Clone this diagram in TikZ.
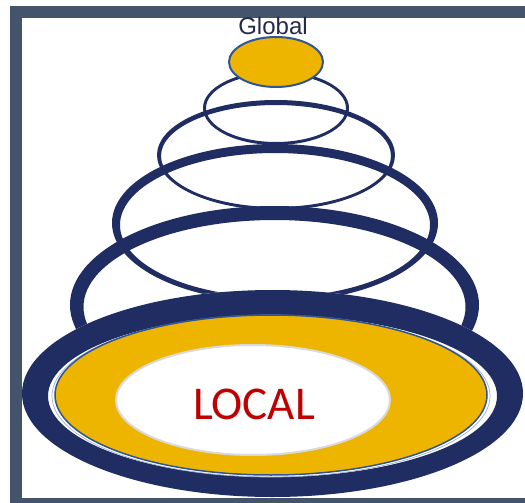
\documentclass[tikz,border=0pt]{standalone}
\usepackage{fontspec}
\newfontfamily\carlito{Carlito}
\newfontfamily\arialish{Liberation Sans}
\definecolor{framec}{HTML}{44546A}
\definecolor{navy}{HTML}{1F2D62}
\definecolor{gold}{HTML}{EEB500}
\definecolor{outblue}{HTML}{2F5597}
\definecolor{localred}{HTML}{C00000}
\definecolor{globtxt}{HTML}{262A4A}
\definecolor{lgray}{HTML}{D9D9D9}
\begin{document}
\begin{tikzpicture}[x=1pt,y=-1pt,
  ring/.style={fill=navy, even odd rule},
  goldfill/.style={fill=gold, draw=outblue, line width=2pt}]
\useasboundingbox (0,0) rectangle (525,503);
\fill[white] (0,0) rectangle (525,503);
\begin{scope}
\clip (0,0) rectangle (525,503);
\draw[framec, line width=12pt, fill=white] (16,12) rectangle (540,504);
% stacked rings (thicker at the top)
\fill[ring] (276,108) ellipse [x radius=73pt, y radius=37pt]
            (276,108) ellipse [x radius=70pt, y radius=34pt];
\fill[ring] (276,155) ellipse [x radius=119pt, y radius=55pt]
            (276,156) ellipse [x radius=115pt, y radius=51pt];
\fill[ring] (275,223) ellipse [x radius=163pt, y radius=79pt]
            (275,225) ellipse [x radius=155pt, y radius=72pt];
\fill[ring] (274.5,305) ellipse [x radius=204.5pt, y radius=99pt]
            (274.5,307) ellipse [x radius=191pt, y radius=87pt];
% base ring
\fill[white] (272.5,393.5) ellipse [x radius=250.5pt, y radius=103.5pt];
\fill[ring] (272.5,393.5) ellipse [x radius=250.5pt, y radius=103.5pt]
            (272.5,396) ellipse [x radius=224.5pt, y radius=81pt];
\draw[outblue!45, line width=0.7pt] (271,396) ellipse [x radius=219pt, y radius=81pt];
\draw[goldfill, line width=1.5pt] (271,395) ellipse [x radius=216pt, y radius=80pt];
\draw[lgray, line width=2pt, fill=white] (253,400) ellipse [x radius=137pt, y radius=55pt];
\node[text=localred, font=\carlito\fontsize{47}{47}\selectfont] (local) at (254,404) {LOCAL};
% top
\draw[goldfill] (276,62) ellipse [x radius=47pt, y radius=25pt];
\node[text=globtxt, font=\arialish\fontsize{24}{24}\selectfont, inner sep=0pt, anchor=base] (global) at (273,35) {Global};
\end{scope}
\end{tikzpicture}
\end{document}
